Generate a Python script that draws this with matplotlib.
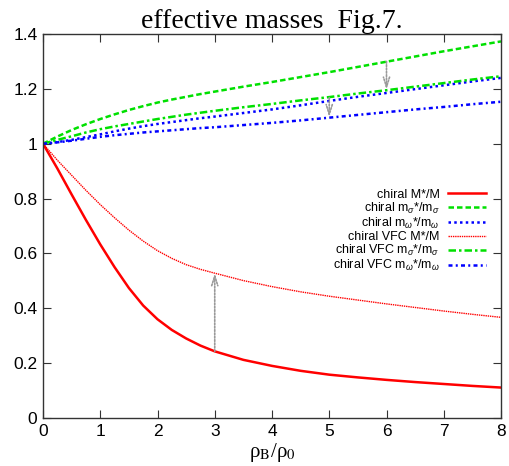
import matplotlib
matplotlib.use("Agg")
import matplotlib.pyplot as plt

plt.rcParams["mathtext.fontset"] = "custom"
plt.rcParams["mathtext.rm"] = "Liberation Sans"
plt.rcParams["mathtext.it"] = "Liberation Sans:italic"

# density rho_B / rho_0
rho = [0, 0.25, 0.5, 0.75, 1, 1.25, 1.5, 1.75, 2, 2.25, 2.5, 2.75, 3,
       3.5, 4, 4.5, 5, 5.5, 6, 6.5, 7, 7.5, 8]

chiral_M = [1, 0.91, 0.815, 0.722, 0.633, 0.55, 0.474, 0.41, 0.36, 0.321, 0.29, 0.264, 0.243,
            0.212, 0.19, 0.172, 0.158, 0.148, 0.139, 0.131, 0.124, 0.117, 0.111]
chiral_sigma = [1, 1.026, 1.05, 1.071, 1.09, 1.107, 1.123, 1.137, 1.15, 1.161, 1.171, 1.181, 1.19,
                1.208, 1.225, 1.243, 1.261, 1.28, 1.299, 1.318, 1.337, 1.355, 1.373]
chiral_omega = [1, 1.006, 1.014, 1.024, 1.034, 1.045, 1.055, 1.064, 1.072, 1.079, 1.086, 1.093, 1.099,
                1.112, 1.125, 1.14, 1.156, 1.171, 1.185, 1.199, 1.213, 1.227, 1.24]
vfc_M = [1, 0.94, 0.885, 0.83, 0.778, 0.73, 0.685, 0.645, 0.61, 0.582, 0.559, 0.542, 0.528,
         0.501, 0.479, 0.46, 0.444, 0.43, 0.416, 0.403, 0.39, 0.378, 0.367]
vfc_sigma = [1, 1.014, 1.027, 1.041, 1.053, 1.063, 1.072, 1.081, 1.09, 1.098, 1.106, 1.113, 1.12,
             1.133, 1.145, 1.158, 1.17, 1.183, 1.195, 1.208, 1.221, 1.234, 1.246]
vfc_omega = [1, 1.005, 1.011, 1.018, 1.025, 1.031, 1.036, 1.041, 1.045, 1.049, 1.053, 1.057, 1.06,
             1.068, 1.076, 1.085, 1.095, 1.105, 1.115, 1.125, 1.134, 1.144, 1.153]

# gray arrows: x, from, to
arrow_x = [3, 6, 5]
arrow_from = [0.243, 1.30, 1.168]
arrow_to = [0.528, 1.197, 1.097]

fig = plt.figure(figsize=(5.1, 4.66), dpi=100)
ax = fig.add_axes([43 / 510, 1 - 418 / 466, 458 / 510, 384 / 466])

ax.plot(rho, chiral_M, color="#ff0000", lw=1.8, ls="-", label="chiral M*/M")
ax.plot(rho, chiral_sigma, color="#00e000", lw=1.8, ls=(0, (2.2, 1.2)),
        label=r"chiral m$_\sigma$*/m$_\sigma$")
ax.plot(rho, chiral_omega, color="#0000ff", lw=1.8, ls=(0, (1, 1.3)),
        label=r"chiral m$_\omega$*/m$_\omega$")
ax.plot(rho, vfc_M, color="#ff0000", lw=1.0, ls=(0, (1, 0.6)), label="chiral VFC M*/M")
ax.plot(rho, vfc_sigma, color="#00e000", lw=1.8, ls=(0, (3, 1.2, 1, 1.2)),
        label=r"chiral VFC m$_\sigma$*/m$_\sigma$")
ax.plot(rho, vfc_omega, color="#0000ff", lw=1.8, ls=(0, (1.6, 1.3, 0.8, 1.3)),
        label=r"chiral VFC m$_\omega$*/m$_\omega$")

for xa, y0, y1 in zip(arrow_x, arrow_from, arrow_to):
    ax.annotate("", xy=(xa, y1), xytext=(xa, y0),
                arrowprops=dict(arrowstyle="->,head_length=0.7,head_width=0.22",
                                color="#999999", lw=1.2, ls=(0, (1, 1)),
                                shrinkA=0, shrinkB=0))

ax.set_xlim(0, 8)
ax.set_ylim(0, 1.4)
ax.set_xticks(range(0, 9))
ax.set_yticks([0, 0.2, 0.4, 0.6, 0.8, 1, 1.2, 1.4])
ax.set_yticklabels(["0", "0.2", "0.4", "0.6", "0.8", "1", "1.2", "1.4"])
ax.tick_params(direction="in", length=6, top=True, right=True, labelsize=12.5,
               color="#333333", pad=4)
for lab in ax.get_xticklabels() + ax.get_yticklabels():
    lab.set_fontfamily("Liberation Sans")
for s in ax.spines.values():
    s.set_color("#333333")
    s.set_linewidth(1.0)

ax.set_title("effective masses  Fig.7.", fontfamily="Liberation Serif", fontsize=20, pad=4)
ax.set_xlabel(r"ρ$_\mathrm{B}$/ρ$_\mathrm{0}$", fontfamily="Liberation Serif",
              math_fontfamily="stix", fontsize=15, labelpad=2)

leg = ax.legend(loc="upper right", bbox_to_anchor=(0.967, 0.597), frameon=False,
                markerfirst=False, prop={"family": "Liberation Sans", "size": 9},
                handlelength=3.0, handletextpad=0.7, labelspacing=0.0,
                borderpad=0, borderaxespad=0)

fig.savefig("out.png", dpi=100)
